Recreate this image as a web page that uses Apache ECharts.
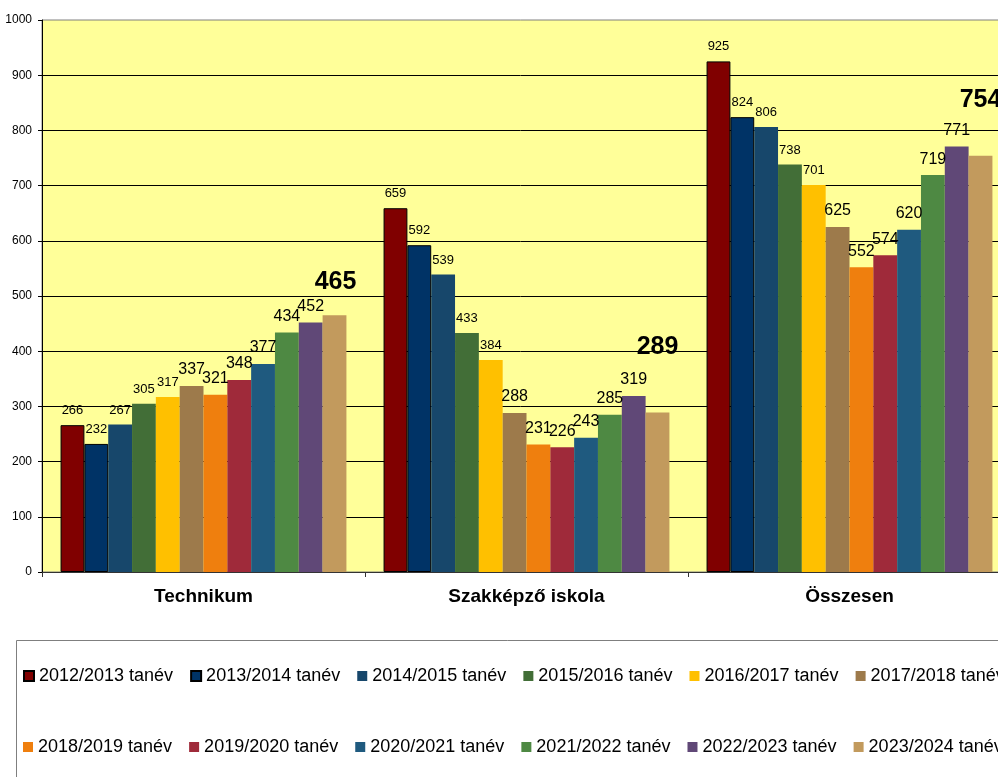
<!DOCTYPE html>
<html>
<head>
<meta charset="utf-8">
<script src="https://cdn.jsdelivr.net/npm/echarts@6/dist/echarts.min.js"></script>
<style>
html,body{margin:0;padding:0;background:#fff;}
#c{width:998px;height:777px;}
</style>
</head>
<body>
<div id="c"></div>
<script>
// ---- data ----
const categories = ['Technikum', 'Szakképző iskola', 'Összesen'];
const seriesNames = [
  '2012/2013 tanév', '2013/2014 tanév', '2014/2015 tanév', '2015/2016 tanév',
  '2016/2017 tanév', '2017/2018 tanév', '2018/2019 tanév', '2019/2020 tanév',
  '2020/2021 tanév', '2021/2022 tanév', '2022/2023 tanév', '2023/2024 tanév'
];
const technikum = [266, 232, 267, 305, 317, 337, 321, 348, 377, 434, 452, 465];
const szakkepzo = [659, 592, 539, 433, 384, 288, 231, 226, 243, 285, 319, 289];
const osszesen  = [925, 824, 806, 738, 701, 625, 552, 574, 620, 719, 771, 754];
const yTicks = [0, 100, 200, 300, 400, 500, 600, 700, 800, 900, 1000];

// ---- styles ----
const colors = ['#800000', '#003366', '#17476B', '#426E37', '#FFC000', '#9D7A4B',
                '#EF7F0E', '#9F2A3A', '#1F5A7F', '#4E8943', '#604877', '#C29A5D'];
const borderBlack = [true, true];
const lastLabelDistance = [21, 53, 43];
const lastLabelOffsetX = [1, 0, 0];

function labelStyle(i) {
  if (i < 5) return { fontSize: 13, fontWeight: 'normal' };
  if (i < 11) return { fontSize: 16, fontWeight: 'normal' };
  return { fontSize: 25, fontWeight: 'bold' };
}

const FONT = 'Liberation Sans, Arial, sans-serif';

const series = seriesNames.map((name, i) => {
  const vals = [technikum[i], szakkepzo[i], osszesen[i]];
  const ls = labelStyle(i);
  const data = vals.map((v, k) => {
    if (i === 11) {
      return { value: v, label: { distance: lastLabelDistance[k], offset: [lastLabelOffsetX[k], 0] } };
    }
    return v;
  });
  return {
    name: name,
    type: 'bar',
    data: data,
    barGap: '0%',
    barCategoryGap: '11.5%',
    itemStyle: {
      color: colors[i],
      borderColor: borderBlack[i] ? '#000' : colors[i],
      borderWidth: borderBlack[i] ? 1 : 0
    },
    label: {
      show: true,
      position: 'top',
      distance: 8,
      color: '#000',
      fontFamily: FONT,
      fontSize: ls.fontSize,
      fontWeight: ls.fontWeight
    },
    emphasis: { disabled: true },
    animation: false
  };
});

const legendCommon = {
  orient: 'horizontal',
  left: 23,
  width: 1400,
  padding: 0,
  itemWidth: 10,
  itemHeight: 10,
  itemGap: 17,
  icon: 'rect',
  selectedMode: false,
  textStyle: { fontFamily: FONT, fontSize: 18, color: '#000' }
};

const option = {
  animation: false,
  backgroundColor: '#fff',
  grid: {
    left: 42, top: 20, height: 552, width: 969,
    outerBoundsMode: 'none',
    containLabel: false,
    show: true, backgroundColor: '#FFFF99', borderColor: '#808080', borderWidth: 1
  },
  legend: [
    Object.assign({}, legendCommon, { top: 667, data: seriesNames.slice(0, 6) }),
    Object.assign({}, legendCommon, { top: 738, data: seriesNames.slice(6, 12) })
  ],
  graphic: [{
    type: 'rect',
    left: 14, top: 638,
    shape: { width: 1000, height: 200 },
    style: { fill: 'none', stroke: '#7f7f7f', lineWidth: 1 },
    silent: true
  }],
  xAxis: {
    type: 'category',
    data: categories,
    axisLine: { lineStyle: { color: '#333', width: 1 } },
    axisTick: { show: true, length: 5, lineStyle: { color: '#333' } },
    axisLabel: { margin: 15, fontFamily: FONT, fontSize: 19, fontWeight: 'bold', color: '#000' }
  },
  yAxis: {
    type: 'value',
    min: yTicks[0],
    max: yTicks[yTicks.length - 1],
    interval: yTicks[1] - yTicks[0],
    axisLine: { show: true, lineStyle: { color: '#000', width: 1 } },
    axisTick: { show: true, length: 4, lineStyle: { color: '#000' } },
    axisLabel: { margin: 10, fontFamily: FONT, fontSize: 12, color: '#000', formatter: (v) => String(v) },
    splitLine: { show: true, showMaxLine: false, lineStyle: { color: '#000', width: 1 } }
  },
  series: series
};

const chart = echarts.init(document.getElementById('c'), null, { renderer: 'canvas' });
chart.setOption(option);
</script>
</body>
</html>
